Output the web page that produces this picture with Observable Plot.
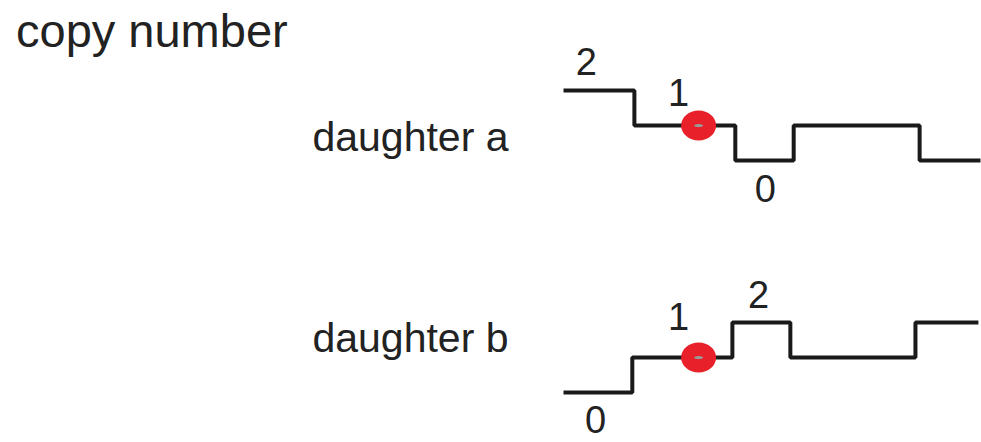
<!DOCTYPE html>
<html>
<head>
<meta charset="utf-8">
<script src="https://cdn.jsdelivr.net/npm/d3@7"></script>
<script src="https://cdn.jsdelivr.net/npm/@observablehq/plot@0.6"></script>
<style>
  html, body { margin: 0; padding: 0; background: #fff; }
  #wrap { position: relative; width: 981px; height: 442px; }
  #title { position: absolute; left: 16px; top: 7px; font: 47px/1 Helvetica, Arial, "Liberation Sans", sans-serif; color: #222; }
  #chart svg { display: block; }
</style>
</head>
<body>
<div id="wrap">
  <div id="chart"></div>
  <div id="title">copy number</div>
</div>
<script>
// Segment breakpoints (position along chromosome, arbitrary units 0–100) and copy number
const daughters = ["daughter a", "daughter b"];
const posA  = [0, 17.0, 41.2, 55.2, 85.4, 100];
const copyA = [2, 1, 0, 1, 0, 0];
const posB  = [0, 16.5, 40.5, 54.4, 84.4, 99.5];
const copyB = [0, 1, 2, 1, 2, 2];

// Copy-number annotations
const labelDaughter = ["daughter a", "daughter a", "daughter a", "daughter b", "daughter b", "daughter b"];
const labelPos      = [5.5, 27.6, 48.4, 7.7, 27.6, 46.8];
const labelCopy     = [2, 1, 0, 0, 1, 2];

// Marked locus (red oval)
const markerPos  = [32.4, 32.4];
const markerCopy = [1, 1];

// ---- layout / style (not data) ----
const labelDy = [-28, -32, 29, 28, -40, -27];
const font = 'Helvetica, Arial, "Liberation Sans", sans-serif';

const steps = [
  ...posA.map((p, i) => ({daughter: daughters[0], pos: p, copy: copyA[i]})),
  ...posB.map((p, i) => ({daughter: daughters[1], pos: p, copy: copyB[i]}))
];
const labels = labelPos.map((p, i) => ({daughter: labelDaughter[i], pos: p, copy: labelCopy[i]}));
const markers = markerPos.map((p, i) => ({daughter: daughters[i], pos: p, copy: markerCopy[i]}));

function ellipse(rx, ry) {
  const k = 0.5523;
  return {
    draw(c) {
      c.moveTo(rx, 0);
      c.bezierCurveTo(rx, k * ry, k * rx, ry, 0, ry);
      c.bezierCurveTo(-k * rx, ry, -rx, k * ry, -rx, 0);
      c.bezierCurveTo(-rx, -k * ry, -k * rx, -ry, 0, -ry);
      c.bezierCurveTo(k * rx, -ry, rx, -k * ry, rx, 0);
      c.closePath();
    }
  };
}

const marks = [
  Plot.line(steps, {x: "pos", y: "copy", fy: "daughter", z: "daughter", curve: "step-after",
    stroke: "#1a1a1a", strokeWidth: 4, strokeLinejoin: "miter", strokeLinecap: "butt"}),
  Plot.dot(markers, {x: "pos", y: "copy", fy: "daughter", symbol: ellipse(17.5, 15), r: 15, fill: "#e8202a", stroke: "none"}),
  Plot.dot(markers, {x: "pos", y: "copy", fy: "daughter", symbol: ellipse(4.5, 1.6), r: 3, fill: "#9a9a9a", stroke: "none"}),
  ...labels.map((l, i) => Plot.text([l], {x: "pos", y: "copy", fy: "daughter", text: d => String(d.copy),
    dy: labelDy[i], fontSize: 38, fill: "#222", textAnchor: "middle"})),
  Plot.text([{daughter: daughters[0]}], {fy: "daughter", text: "daughter", frameAnchor: "left",
    textAnchor: "end", dx: -55, dy: 12.7, fontSize: 41, fill: "#222"}),
  Plot.text([{daughter: daughters[1]}], {fy: "daughter", text: "daughter", frameAnchor: "left",
    textAnchor: "end", dx: -55, dy: -18.8, fontSize: 41, fill: "#222"})
];

const chart = Plot.plot({
  width: 981,
  height: 442,
  marginLeft: 563,
  marginRight: 1,
  marginTop: 0,
  marginBottom: 0,
  style: {fontFamily: font, background: "#fff", overflow: "visible"},
  x: {domain: [0, 100], axis: null},
  y: {domain: [0, 2], axis: null},
  fy: {domain: daughters, range: [89.5, 392], paddingInner: 0.699, paddingOuter: 0, axis: null},
  marks
});
document.getElementById("chart").appendChild(chart);
</script>
</body>
</html>
